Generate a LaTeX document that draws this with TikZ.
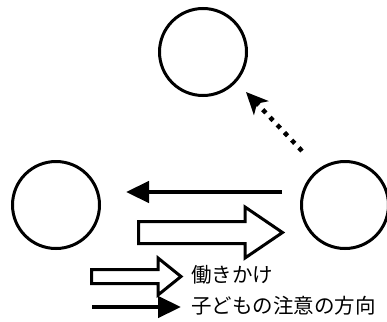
\documentclass[tikz,border=0pt]{standalone}
\usepackage{fontspec}
\newfontfamily\jp{Noto Sans CJK JP}
\usetikzlibrary{arrows.meta}
\tikzset{
  person/.style={circle, draw=black, line width=3pt, minimum size=87pt, inner sep=0pt},
  attn/.style={line width=4.5pt, -{Triangle[length=23pt,width=21pt]}},
  hollow/.style={draw=black, line width=3pt, fill=white, line join=miter},
  dotarrow/.style={line width=4.5pt, dash pattern=on 4.5pt off 6pt, -{Stealth[length=22pt,width=20pt,inset=6pt]}},
  label/.style={font=\jp\fontsize{20.5pt}{22pt}\selectfont, anchor=west, inner sep=0pt}
}
\begin{document}
\begin{tikzpicture}[x=1pt,y=-1pt]
\useasboundingbox (0,0) rectangle (387,321);
\node[person] (top) at (203,52) {};
\node[person] (left) at (56,205) {};
\node[person] (right) at (345,205) {};
% attention arrow right -> left
\coordinate (a1) at (282,192);
\coordinate (a2) at (126,192);
\draw[attn] (a1) -- (a2);
% hollow arrow left -> right
\draw[hollow] (138.5,221.5) -- (245,221.5) -- (245,207) -- (282.5,232.5) -- (245,258) -- (245,243.5) -- (138.5,243.5) -- cycle;
% dotted arrow right -> top
\coordinate (d1) at (302,151);
\coordinate (d2) at (246,92);
\draw[dotarrow] (d1) -- (d2);
% legend
\draw[hollow] (91.5,269.5) -- (158,269.5) -- (158,258) -- (181,276.5) -- (158,295) -- (158,283.5) -- (91.5,283.5) -- cycle;
\coordinate (l1) at (92,307);
\coordinate (l2) at (181,307);
\draw[attn] (l1) -- (l2);
\node[label] (t1) at (191,275) {働きかけ};
\node[label] (t2) at (191,306) {子どもの注意の方向};
\end{tikzpicture}
\end{document}
